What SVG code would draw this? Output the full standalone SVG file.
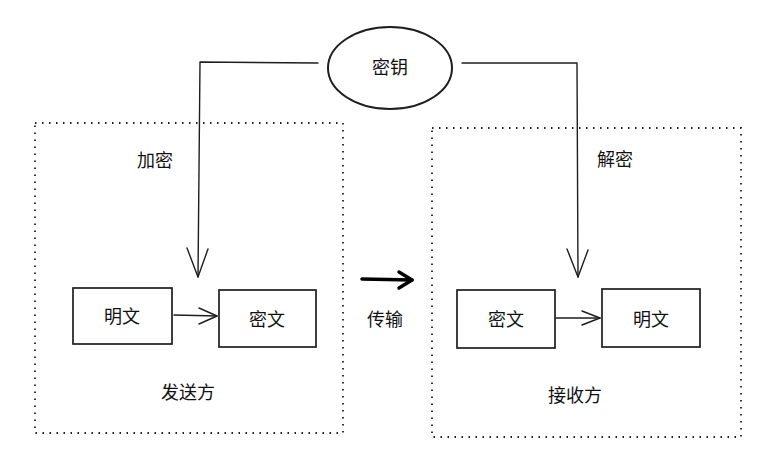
<svg xmlns="http://www.w3.org/2000/svg" width="771" height="455" viewBox="0 0 771 455">
<style>
.box{fill:none;stroke:#1e1e1e;stroke-width:1.7}
.ell{fill:none;stroke:#1e1e1e;stroke-width:2}
.grp{fill:none;stroke:#1e1e1e;stroke-width:1.8;stroke-dasharray:1.5 5.5}
.ln{fill:none;stroke:#1e1e1e;stroke-width:1.4;stroke-linecap:round;stroke-linejoin:round}
.thick{fill:none;stroke:#000;stroke-width:3.5;stroke-linecap:round;stroke-linejoin:round}
text{font-family:"Noto Sans CJK SC","Noto Sans",sans-serif;font-size:18px;fill:#111;text-anchor:middle;dominant-baseline:central}
</style>
<rect width="771" height="455" fill="#fff"/>
<g id="sender">
<rect class="grp" x="35" y="123" width="308" height="310"/>
<text x="188" y="391">发送方</text>
</g>
<g id="receiver">
<rect class="grp" x="432" y="128" width="309" height="309"/>
<text x="575" y="394">接收方</text>
</g>
<g id="key">
<ellipse class="ell" cx="390" cy="68" rx="62" ry="41"/>
<text x="390" y="66">密钥</text>
</g>
<g id="s-plain">
<rect class="box" x="73" y="288" width="99" height="56"/>
<text x="122" y="315">明文</text>
</g>
<g id="s-cipher">
<rect class="box" x="219" y="290" width="97" height="57"/>
<text x="267" y="318">密文</text>
</g>
<g id="r-cipher">
<rect class="box" x="457" y="290" width="98" height="58"/>
<text x="506" y="318">密文</text>
</g>
<g id="r-plain">
<rect class="box" x="602" y="289" width="98" height="58"/>
<text x="651" y="318">明文</text>
</g>
<g id="connectors">
<path class="ln" d="M318 63 L200 62 L198 277"/>
<path class="ln" d="M187 248 L198 277 L208 249"/>
<path class="ln" d="M462 63 L577 63 L578 277"/>
<path class="ln" d="M567 249 L578 277 L588 250"/>
<path class="ln" d="M174 315 L217 316"/>
<path class="ln" d="M199 308 L217 316 L199 324"/>
<path class="ln" d="M556 318 L600 318"/>
<path class="ln" d="M582 311 L600 318 L582 325"/>
<path class="thick" d="M362 279 L412 280"/>
<path class="thick" d="M399 272 L412 280 L399 288"/>
<text x="155" y="159">加密</text>
<text x="615" y="158">解密</text>
<text x="385" y="318">传输</text>
</g>
</svg>
